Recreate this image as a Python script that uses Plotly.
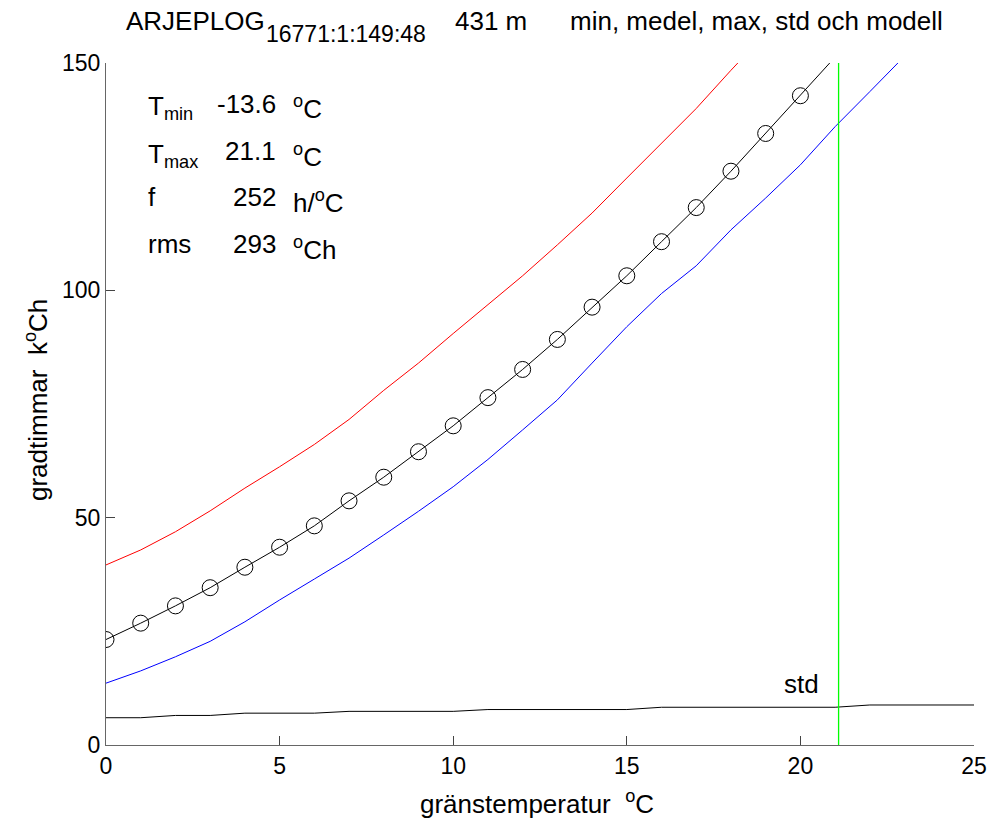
import plotly.graph_objects as go

# ---- data ----
x_medel = list(range(0, 21))
medel = [23.2, 26.8, 30.6, 34.6, 39.1, 43.5, 48.2, 53.7, 58.9, 64.5, 70.2,
         76.4, 82.6, 89.2, 96.3, 103.2, 110.7, 118.2, 126.2, 134.5, 142.8]
x_modell = list(range(0, 22))
modell = [23.2, 26.8, 30.6, 34.6, 39.1, 43.5, 48.2, 53.7, 58.9, 64.5, 70.2,
          76.4, 82.6, 89.2, 96.3, 103.2, 110.7, 118.2, 126.2, 134.5, 142.8, 151.3]
x_max = list(range(0, 20))
max_vals = [39.6, 42.9, 46.9, 51.5, 56.5, 61.2, 66.1, 71.6, 78.0, 84.0, 90.5,
            96.8, 103.2, 110.0, 117.0, 124.7, 132.4, 140.0, 148.4, 156.5]
x_min = list(range(0, 24))
min_vals = [13.6, 16.3, 19.4, 22.8, 27.1, 31.9, 36.5, 41.1, 46.2, 51.4, 56.8,
            62.8, 69.3, 75.9, 84.0, 92.0, 99.3, 105.4, 113.3, 120.3, 127.6,
            136.0, 143.7, 151.5]
x_std = list(range(0, 26))
std_vals = [6.0, 6.0, 6.5, 6.5, 7.0, 7.0, 7.0, 7.4, 7.4, 7.4, 7.4, 7.8, 7.8,
            7.8, 7.8, 7.8, 8.3, 8.3, 8.3, 8.3, 8.3, 8.3, 8.8, 8.8, 8.8, 8.8]

T_min = -13.6
T_max = 21.1
f_val = 252
rms_val = 293

station = "ARJEPLOG"
station_code = "16771:1:149:48"
altitude = "431 m"
subtitle = "min, medel, max, std och modell"

x_ticks = [0, 5, 10, 15, 20, 25]
y_ticks = [0, 50, 100, 150]

FONT = "Liberation Sans, Arial, Helvetica, sans-serif"

fig = go.Figure()
fig.add_trace(go.Scatter(x=x_max, y=max_vals, mode="lines",
                         line=dict(color="#ff0000", width=1)))
fig.add_trace(go.Scatter(x=x_min, y=min_vals, mode="lines",
                         line=dict(color="#0000ff", width=1)))
fig.add_trace(go.Scatter(x=x_std, y=std_vals, mode="lines",
                         line=dict(color="black", width=1)))
fig.add_trace(go.Scatter(x=x_modell, y=modell, mode="lines",
                         line=dict(color="black", width=1)))
fig.add_trace(go.Scatter(x=x_medel, y=medel, mode="markers",
                         marker=dict(symbol="circle-open", size=16,
                                     color="black", line=dict(width=1))))
fig.add_trace(go.Scatter(x=[T_max, T_max], y=[0, 150], mode="lines",
                         line=dict(color="#00ff00", width=1.3)))

W, H = 992, 827
L, R, T, B = 106, 974, 63, 745  # plot area in screen pixels

ann = []
ann.append(dict(x=124, y=21, text=station, xanchor="left", font_size=26))
ann.append(dict(x=264, y=34, text=station_code, xanchor="left", font_size=23))
ann.append(dict(x=453, y=21, text=altitude, xanchor="left", font_size=26))
ann.append(dict(x=568, y=21, text=subtitle, xanchor="left", font_size=26))

rows_y = [104, 151, 197, 244]
labels = ["T<sub>min</sub>", "T<sub>max</sub>", "f", "rms"]
values = [f"{T_min:.1f}", f"{T_max:.1f}", f"{f_val}", f"{rms_val}"]
units = ["<sup>o</sup>C", "<sup>o</sup>C", "h/<sup>o</sup>C", "<sup>o</sup>Ch"]
for yy, lab, val, un in zip(rows_y, labels, values, units):
    ann.append(dict(x=146, y=yy, text=lab, xanchor="left", font_size=26,
                    yshift=-4 if "sub" in lab else 0))
    ann.append(dict(x=278, y=yy, text=val, xanchor="right", font_size=26))
    ann.append(dict(x=291, y=yy, text=un, xanchor="left", font_size=26, yshift=-4))

ann.append(dict(x=782, y=684, text="std", xanchor="left", font_size=26))
ann.append(dict(x=537, y=802, text="gränstemperatur  <sup>o</sup>C", xanchor="center",
                font_size=26))
ann.append(dict(x=36, y=400, text="gradtimmar  k<sup>o</sup>Ch", xanchor="center",
                textangle=-90, font_size=26))

annotations = []
for a in ann:
    px, py = a.pop("x"), a.pop("y")
    fs = a.pop("font_size")
    annotations.append(dict(xref="paper", yref="paper",
                            x=(px - L) / (R - L), y=(B - py) / (B - T),
                            yanchor="middle", showarrow=False,
                            font=dict(family=FONT, size=fs, color="black"), **a))

fig.update_layout(
    width=W, height=H,
    margin=dict(l=L, r=W - R, t=T, b=H - B, pad=0, autoexpand=False),
    paper_bgcolor="white", plot_bgcolor="white",
    showlegend=False,
    annotations=annotations,
    font=dict(family=FONT, size=23, color="black"),
    xaxis=dict(range=[0, 25], tickvals=x_ticks, ticks="inside", ticklen=9,
               tickcolor="#444", showline=True, linecolor="#666", linewidth=1,
               showgrid=False, zeroline=False, tickfont=dict(size=23),
               fixedrange=True, automargin=False),
    yaxis=dict(range=[0, 150], tickvals=y_ticks, ticks="inside", ticklen=9,
               tickcolor="#444", showline=True, linecolor="#666", linewidth=1,
               showgrid=False, zeroline=False, tickfont=dict(size=23),
               fixedrange=True, automargin=False),
)

fig.write_html("out.html",
               config={"displayModeBar": False},
               post_script="document.body.style.margin='0';"
                           "document.body.style.overflow='hidden';")
